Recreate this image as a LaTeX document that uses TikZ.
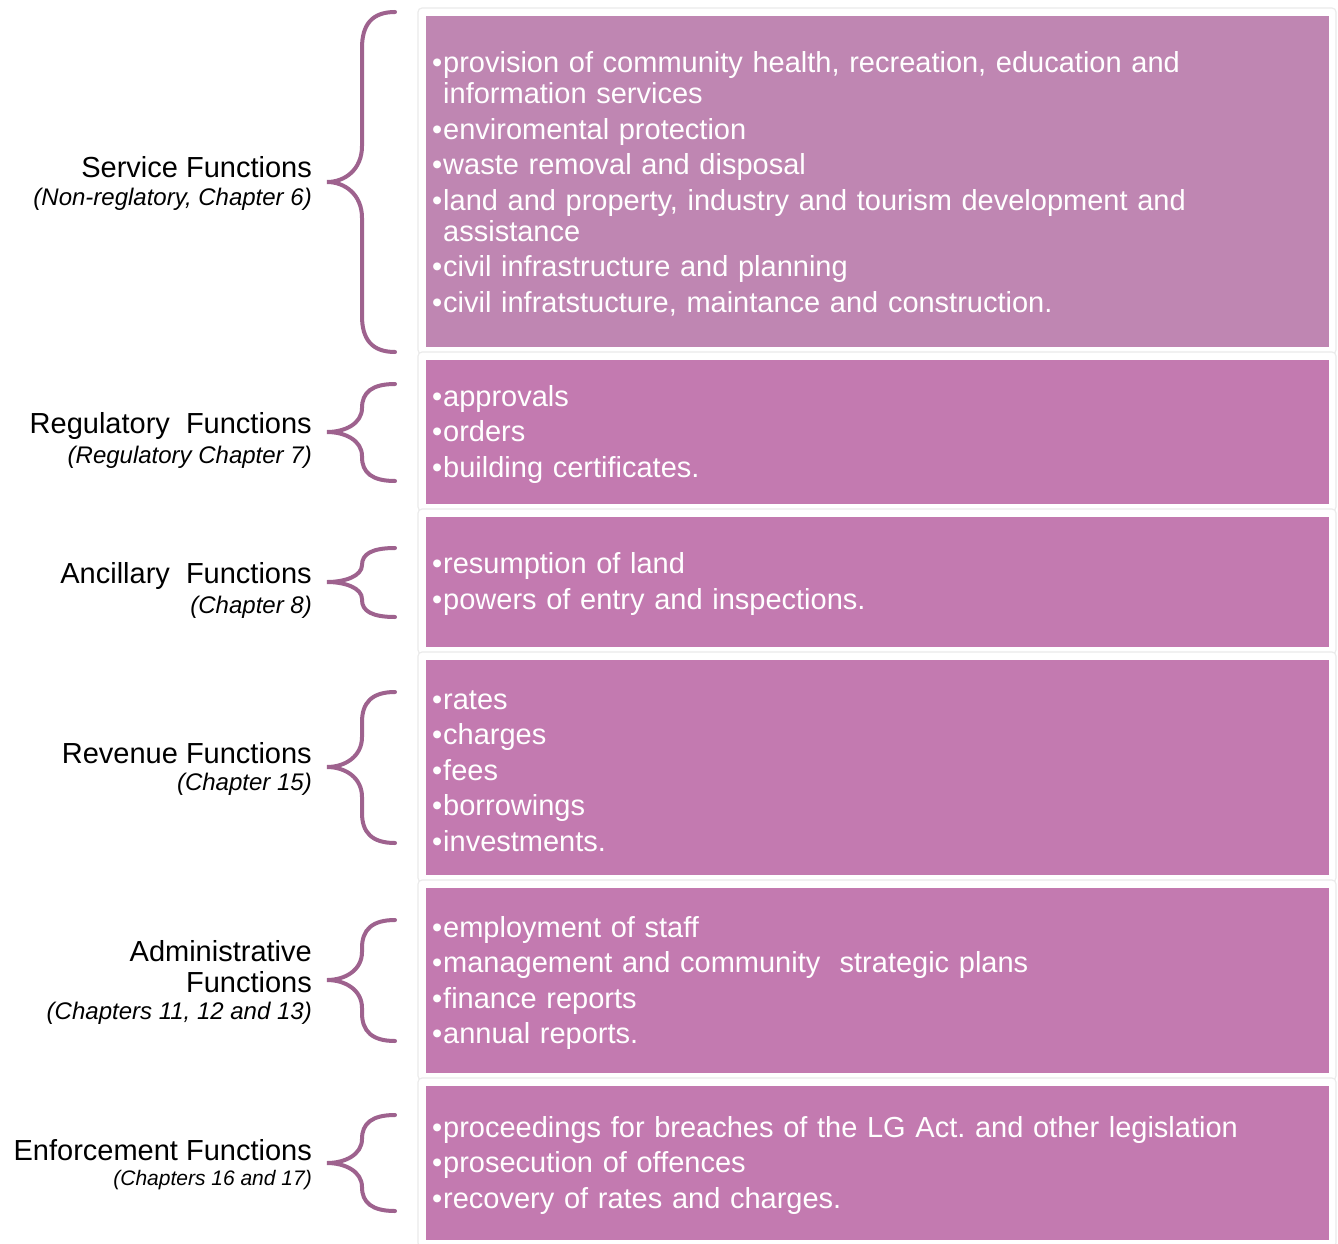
\documentclass[tikz,border=0pt]{standalone}
\usepackage{fontspec}
\setmainfont{Liberation Sans}
\frenchspacing
\definecolor{boxA}{RGB}{191,134,178}
\definecolor{boxB}{RGB}{195,122,176}
\definecolor{braceC}{RGB}{158,98,142}
\newcommand\itm[1]{\par\hangindent=11pt\hangafter=1\noindent\makebox[11pt][l]{•}#1}
\newcommand\bodyfnt{\fontsize{29}{31}\selectfont\setlength{\parskip}{4.5pt}\frenchspacing}
\newcommand\fbrace[5]{% name, ytop, ymid, ybot, r
  \coordinate (#1top) at (395,#2);
  \coordinate (#1tip) at (327,#3);
  \coordinate (#1bot) at (395,#4);
  \draw[brace] (#1top) .. controls (372,#2) and (362,{#2+#5*0.35}) .. (362,{#2+#5})
    -- (362,{#3-#5}) .. controls (362,{#3-#5*0.35}) and (345,#3) .. (#1tip)
    .. controls (345,#3) and (362,{#3+#5*0.35}) .. (362,{#3+#5})
    -- (362,{#4-#5}) .. controls (362,{#4-#5*0.35}) and (372,#4) .. (#1bot);
}
\begin{document}
\begin{tikzpicture}[x=1pt,y=-1pt,
  brace/.style={draw=braceC,line width=4pt,line cap=round},
  frame/.style={fill=white,draw=black!8,line width=1.2pt,rounded corners=4pt},
  pbox/.style={minimum width=903pt,inner sep=0pt,outer sep=0pt},
  body/.style={anchor=west,yshift=5pt,text width=895pt,inner xsep=6pt,inner ysep=0pt,align=left,text=white,font=\bodyfnt},
  ttl/.style={anchor=base east,inner sep=0pt,font=\fontsize{29}{31}\selectfont},
  sub/.style={anchor=base east,inner sep=0pt,font=\fontsize{24}{28}\selectfont\itshape}]
\useasboundingbox (0,0) rectangle (1338,1244);
\fill[white] (0,0) rectangle (1338,1244);
% frames
\foreach \t/\b in {16/347,360/504,517/647,660/875,888/1073,1086/1240}{
  \draw[frame] (418,\t-8) rectangle (1336,\b+7);
}
% boxes
\node[pbox,fill=boxA,minimum height=331pt] (b1) at (877.5,181.5) {};
\node[pbox,fill=boxB,minimum height=144pt] (b2) at (877.5,432) {};
\node[pbox,fill=boxB,minimum height=130pt] (b3) at (877.5,582) {};
\node[pbox,fill=boxB,minimum height=215pt] (b4) at (877.5,767.5) {};
\node[pbox,fill=boxB,minimum height=185pt] (b5) at (877.5,980.5) {};
\node[pbox,fill=boxB,minimum height=154pt] (b6) at (877.5,1163) {};
% texts
\node[body] (t1) at (b1.west) {\itm{provision of community health, recreation, education and\break information services}\itm{enviromental protection}\itm{waste removal and disposal}\itm{land and property, industry and tourism development and\break assistance}\itm{civil infrastructure and planning}\itm{civil infratstucture, maintance and construction.}};
\node[body] (t2) at (b2.west) {\itm{approvals}\itm{orders}\itm{building certificates.}};
\node[body] (t3) at (b3.west) {\itm{resumption of land}\itm{powers of entry and inspections.}};
\node[body] (t4) at (b4.west) {\itm{rates}\itm{charges}\itm{fees}\itm{borrowings}\itm{investments.}};
\node[body] (t5) at (b5.west) {\itm{employment of staff}\itm{management and community\ \ strategic plans}\itm{finance reports}\itm{annual reports.}};
\node[body] (t6) at (b6.west) {\itm{proceedings for breaches of the LG Act. and other legislation}\itm{prosecution of offences}\itm{recovery of rates and charges.}};
% labels
\node[ttl] (l1) at (312,177) {Service Functions};
\node[sub] (s1) at (312,205) {(Non-reglatory, Chapter 6)};
\node[ttl] (l2) at (312,433) {Regulatory\ \ Functions};
\node[sub] (s2) at (312,463) {(Regulatory Chapter 7)};
\node[ttl] (l3) at (312,583) {Ancillary\ \ Functions};
\node[sub] (s3) at (312,613) {(Chapter 8)};
\node[ttl] (l4) at (312,763) {Revenue Functions};
\node[sub] (s4) at (312,790) {(Chapter 15)};
\node[ttl] (l5a) at (312,961) {Administrative};
\node[ttl] (l5) at (312,992) {Functions};
\node[sub] (s5) at (312,1019) {(Chapters 11, 12 and 13)};
\node[ttl] (l6) at (312,1160) {Enforcement Functions};
\node[sub,font=\fontsize{21}{25}\selectfont\itshape] (s6) at (312,1185) {(Chapters 16 and 17)};
% braces
\fbrace{r1}{12}{182}{352}{36}
\fbrace{r2}{384}{432}{481}{24}
\fbrace{r3}{548}{582}{617}{17}
\fbrace{r4}{692}{767}{843}{30}
\fbrace{r5}{920}{980}{1041}{28}
\fbrace{r6}{1115}{1163}{1211}{24}
\end{tikzpicture}
\end{document}
